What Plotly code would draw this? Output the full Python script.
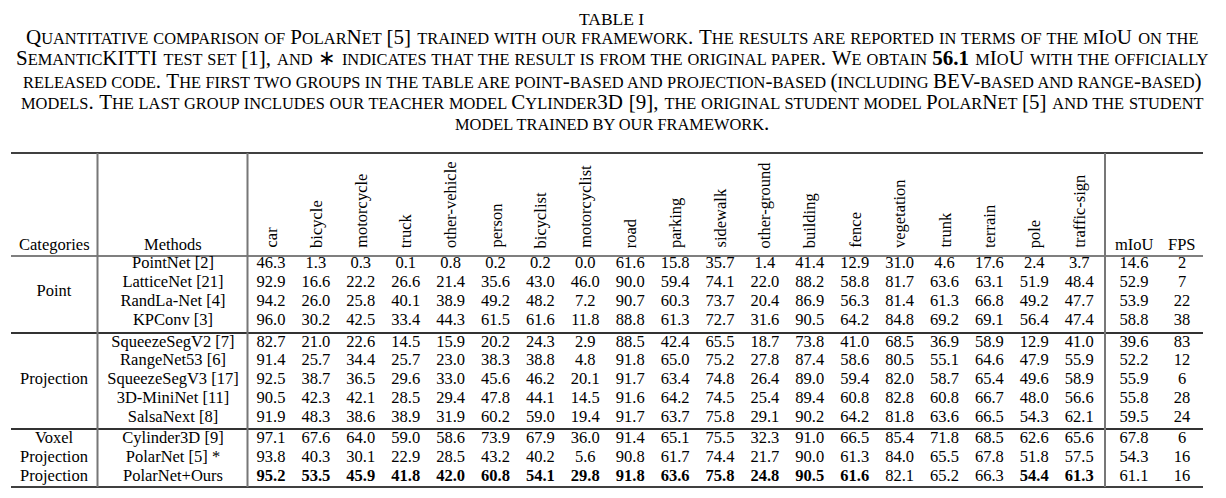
import plotly.graph_objects as go

# column classes of the table
classes = ["car", "bicycle", "motorcycle", "truck", "other-vehicle", "person", "bicyclist",
           "motorcyclist", "road", "parking", "sidewalk", "other-ground", "building", "fence",
           "vegetation", "trunk", "terrain", "pole", "traffic-sign"]

methods = ["PointNet [2]", "LatticeNet [21]", "RandLa-Net [4]", "KPConv [3]",
           "SqueezeSegV2 [7]", "RangeNet53 [6]", "SqueezeSegV3 [17]", "3D-MiniNet [11]", "SalsaNext [8]",
           "Cylinder3D [9]", "PolarNet [5] *", "PolarNet+Ours"]

group_labels = ["Point", "Projection", ["Voxel", "Projection", "Projection"]]
group_sizes = [4, 5, 3]

iou = [
    [46.3, 1.3, 0.3, 0.1, 0.8, 0.2, 0.2, 0.0, 61.6, 15.8, 35.7, 1.4, 41.4, 12.9, 31.0, 4.6, 17.6, 2.4, 3.7],
    [92.9, 16.6, 22.2, 26.6, 21.4, 35.6, 43.0, 46.0, 90.0, 59.4, 74.1, 22.0, 88.2, 58.8, 81.7, 63.6, 63.1, 51.9, 48.4],
    [94.2, 26.0, 25.8, 40.1, 38.9, 49.2, 48.2, 7.2, 90.7, 60.3, 73.7, 20.4, 86.9, 56.3, 81.4, 61.3, 66.8, 49.2, 47.7],
    [96.0, 30.2, 42.5, 33.4, 44.3, 61.5, 61.6, 11.8, 88.8, 61.3, 72.7, 31.6, 90.5, 64.2, 84.8, 69.2, 69.1, 56.4, 47.4],
    [82.7, 21.0, 22.6, 14.5, 15.9, 20.2, 24.3, 2.9, 88.5, 42.4, 65.5, 18.7, 73.8, 41.0, 68.5, 36.9, 58.9, 12.9, 41.0],
    [91.4, 25.7, 34.4, 25.7, 23.0, 38.3, 38.8, 4.8, 91.8, 65.0, 75.2, 27.8, 87.4, 58.6, 80.5, 55.1, 64.6, 47.9, 55.9],
    [92.5, 38.7, 36.5, 29.6, 33.0, 45.6, 46.2, 20.1, 91.7, 63.4, 74.8, 26.4, 89.0, 59.4, 82.0, 58.7, 65.4, 49.6, 58.9],
    [90.5, 42.3, 42.1, 28.5, 29.4, 47.8, 44.1, 14.5, 91.6, 64.2, 74.5, 25.4, 89.4, 60.8, 82.8, 60.8, 66.7, 48.0, 56.6],
    [91.9, 48.3, 38.6, 38.9, 31.9, 60.2, 59.0, 19.4, 91.7, 63.7, 75.8, 29.1, 90.2, 64.2, 81.8, 63.6, 66.5, 54.3, 62.1],
    [97.1, 67.6, 64.0, 59.0, 58.6, 73.9, 67.9, 36.0, 91.4, 65.1, 75.5, 32.3, 91.0, 66.5, 85.4, 71.8, 68.5, 62.6, 65.6],
    [93.8, 40.3, 30.1, 22.9, 28.5, 43.2, 40.2, 5.6, 90.8, 61.7, 74.4, 21.7, 90.0, 61.3, 84.0, 65.5, 67.8, 51.8, 57.5],
    [95.2, 53.5, 45.9, 41.8, 42.0, 60.8, 54.1, 29.8, 91.8, 63.6, 75.8, 24.8, 90.5, 61.6, 82.1, 65.2, 66.3, 54.4, 61.3],
]
miou = [14.6, 52.9, 53.9, 58.8, 39.6, 52.2, 55.9, 55.8, 59.5, 67.8, 54.3, 61.1]
fps = [2, 7, 22, 38, 83, 12, 6, 28, 24, 6, 16, 16]

# bold cells of the last row (our model)
bold_last = [True] * 8 + [True] * 6 + [False, False, False] + [True, True]

caption = [
    "Quantitative comparison of PolarNet [5] trained with our framework. The results are reported in terms of the mIoU on the",
    ("SemanticKITTI test set [1], and \u2217 indicates that the result is from the original paper. We obtain ", "56.1",
     " mIoU with the officially"),
    "released code. The first two groups in the table are point-based and projection-based (including BEV-based and range-based)",
    "models. The last group includes our teacher model Cylinder3D [9], the original student model PolarNet [5] and the student",
    "model trained by our framework.",
]

FONT = "Liberation Serif"
W, H = 1226, 498
OFF = 8  # page body margin
SIZE = 16.5
CAP_BIG, CAP_SMALL = 21, 16.4


def sc(s, small=CAP_SMALL):
    # fake small caps: lowercase runs become smaller uppercase letters
    out, run = "", ""
    for ch in s:
        if ch.islower() or (ch == " " and run):
            run += ch
        else:
            if run:
                out += '<span style="font-size:%spx">%s</span>' % (small, run.upper())
                run = ""
            out += ch
    if run:
        out += '<span style="font-size:%spx">%s</span>' % (small, run.upper())
    return out


# layout positions (pixels)
col_x = [271 + 44.9 * i for i in range(len(classes))]
miou_x, fps_x = 1134, 1182
meth_x, cat_x = 173, 54
group_start = [264, 342.5, 439.3]
row_step = 18.8

row_y = []
for g, n in enumerate(group_sizes):
    for i in range(n):
        row_y.append(group_start[g] + row_step * i)

fig = go.Figure()

xs, ys, txt = [], [], []
for r, vals in enumerate(iou):
    for c, v in enumerate(vals):
        s = "%.1f" % v
        if r == len(iou) - 1 and bold_last[c]:
            s = "<b>%s</b>" % s
        xs.append(col_x[c])
        ys.append(row_y[r])
        txt.append(s)
    xs += [miou_x, fps_x]
    ys += [row_y[r], row_y[r]]
    txt += ["%.1f" % miou[r], str(fps[r])]

fig.add_trace(go.Scatter(x=xs, y=ys, text=txt, mode="text", textposition="middle center",
                         textfont=dict(family=FONT, size=SIZE, color="black"), hoverinfo="skip"))

fig.add_trace(go.Scatter(x=[meth_x] * len(methods), y=row_y, text=methods, mode="text",
                         textposition="middle center",
                         textfont=dict(family=FONT, size=SIZE, color="black"), hoverinfo="skip"))

# category labels
cat_x_list, cat_y_list, cat_txt = [], [], []
k = 0
for g, n in enumerate(group_sizes):
    lab = group_labels[g]
    if isinstance(lab, list):
        for i in range(n):
            cat_x_list.append(cat_x)
            cat_y_list.append(row_y[k + i])
            cat_txt.append(lab[i])
    else:
        cat_x_list.append(cat_x)
        cat_y_list.append((row_y[k] + row_y[k + n - 1]) / 2)
        cat_txt.append(lab)
    k += n
fig.add_trace(go.Scatter(x=cat_x_list, y=cat_y_list, text=cat_txt, mode="text",
                         textposition="middle center",
                         textfont=dict(family=FONT, size=SIZE, color="black"), hoverinfo="skip"))

# header
head_font = dict(family=FONT, size=SIZE, color="black")
for c, name in enumerate(classes):
    fig.add_annotation(x=col_x[c], y=250, text=name, textangle=-90, showarrow=False,
                       xanchor="center", yanchor="bottom", font=head_font)
for x, name in [(cat_x, "Categories"), (meth_x, "Methods"), (miou_x, "mIoU"), (fps_x, "FPS")]:
    fig.add_annotation(x=x, y=244, text=name, showarrow=False, xanchor="center",
                       yanchor="middle", font=head_font)

# title and caption (word spacing stretches lines to the justified width)
fig.add_annotation(x=611, y=18.5, text="TABLE I", showarrow=False, xanchor="center",
                   yanchor="middle", font=dict(family=FONT, size=17.5, color="black"))
cap_y = [37, 58, 80.6, 101.6, 122.6]
cap_spacing = [0.95, 0.95, 0.35, 0.65, 0]
for i, line in enumerate(caption):
    if isinstance(line, tuple):
        t = sc(line[0]) + "<b>" + line[1] + "</b>" + sc(line[2])
    else:
        t = sc(line)
    if cap_spacing[i]:
        t = '<span style="word-spacing:%spx">%s</span>' % (cap_spacing[i], t)
    fig.add_annotation(x=612, y=cap_y[i], text=t, showarrow=False, xanchor="center",
                       yanchor="middle", font=dict(family=FONT, size=CAP_BIG, color="black"))

# rules
left, right = 11, 1203
fig.add_shape(type="line", x0=left, x1=right, y0=153, y1=153, line=dict(color="black", width=1.5))
fig.add_shape(type="line", x0=left, x1=right, y0=256, y1=256, line=dict(color="black", width=1.2))
fig.add_shape(type="line", x0=left, x1=right, y0=333, y1=333, line=dict(color="#333", width=2))
fig.add_shape(type="line", x0=left, x1=right, y0=429, y1=429, line=dict(color="#333", width=2))
fig.add_shape(type="line", x0=left, x1=right, y0=487, y1=487, line=dict(color="black", width=1.5))
for vx in [97.5, 247.5, 1105]:
    fig.add_shape(type="line", x0=vx, x1=vx, y0=153, y1=487, line=dict(color="#777", width=2))

fig.update_layout(
    width=W, height=H, margin=dict(l=0, r=0, t=0, b=0),
    paper_bgcolor="white", plot_bgcolor="white", showlegend=False,
    xaxis=dict(range=[OFF, W + OFF], visible=False, fixedrange=True),
    yaxis=dict(range=[H + OFF, OFF], visible=False, fixedrange=True),
)

fig.write_html("out.html")
